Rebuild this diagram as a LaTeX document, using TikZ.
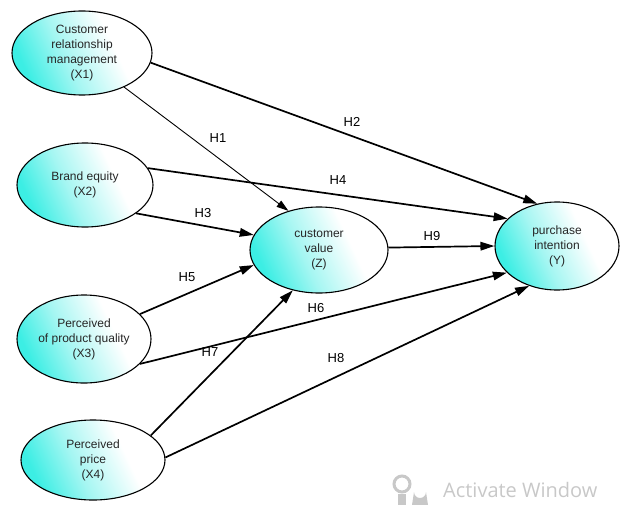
\documentclass[tikz,border=0pt]{standalone}
\usepackage{fontspec}
\setmainfont{Liberation Sans}
\newfontfamily\winfont{Open Sans}
\usepackage{xcolor}
\usepackage{tikz}
\usetikzlibrary{arrows.meta,shapes.geometric}
\definecolor{latentcyan}{RGB}{60,238,228}
\definecolor{latentmid}{RGB}{165,246,242}
\definecolor{marktext}{RGB}{200,200,200}
\pgfdeclarehorizontalshading{latentshade}{100bp}{color(0bp)=(latentcyan); color(26bp)=(latentcyan); color(43bp)=(latentmid); color(63bp)=(white); color(100bp)=(white)}
\tikzset{
  latent/.style={ellipse, draw, line width=1.1pt, shading=latentshade, shading angle=25, align=center, inner sep=0pt, text=black!85, font=\fontsize{12}{15}\selectfont},
  patharrow/.style={-{Triangle[length=14pt,width=8.5pt]}, line width=1.7pt},
  thinarrow/.style={-{Triangle[length=12pt,width=7.5pt]}, line width=0.9pt},
  hlabel/.style={font=\fontsize{13}{15}\selectfont, inner sep=1pt}
}

\begin{document}
\begin{tikzpicture}[x=1pt, y=-1pt]
  \useasboundingbox (0,0) rectangle (620,505);
  % constructs
  \node[latent, minimum width=140pt, minimum height=84pt] (x1) at (82,53) {Customer\\relationship\\management\\(X1)};
  \node[latent, minimum width=136pt, minimum height=84pt] (x2) at (85,185) {Brand equity\\(X2)};
  \node[latent, minimum width=134pt, minimum height=88pt] (x3) at (84,339) {Perceived\\of product quality\\(X3)};
  \node[latent, minimum width=144pt, minimum height=80pt] (x4) at (93,460) {Perceived\\price\\(X4)};
  \node[latent, minimum width=138pt, minimum height=86pt] (z) at (319,250) {customer\\value\\(Z)};
  \node[latent, minimum width=124pt, minimum height=88pt] (y) at (557,246) {purchase\\intention\\(Y)};
  % paths
  \draw[thinarrow] (x1.-39) -- (z.128);
  \draw[patharrow] (x1.-8) -- (y.115);
  \draw[patharrow] (x2.-29) -- (z.167);
  \draw[patharrow] (x2.15) -- (y.151);
  \draw[patharrow] (x3.24) -- (z.193);
  \draw[patharrow] (x3.-24) -- (y.208);
  \draw[patharrow] (x4.23) -- (z.237);
  \draw[patharrow] (x4.2) -- (y.235);
  \draw[patharrow] (z.2) -- (y.180);
  % hypotheses
  \node[hlabel] (h1) at (218,138) {H1};
  \node[hlabel] (h2) at (352,122) {H2};
  \node[hlabel] (h3) at (203,213) {H3};
  \node[hlabel] (h4) at (338,180) {H4};
  \node[hlabel] (h5) at (187,277) {H5};
  \node[hlabel] (h6) at (316,308) {H6};
  \node[hlabel] (h7) at (210,352) {H7};
  \node[hlabel] (h8) at (336,358) {H8};
  \node[hlabel] (h9) at (432,236) {H9};
  % watermark
  \draw[marktext, line width=3pt] (402,484) circle (8);
  \fill[marktext] (398,494) rectangle (406,505);
  \fill[marktext] (412,505) -- (414,492) arc (180:0:6) -- (428,505) -- cycle;
  \node[anchor=base west, inner sep=0pt, text=marktext, font=\winfont\fontsize{20}{22}\selectfont] (mark) at (443,497) {Activate Window};
\end{tikzpicture}
\end{document}
